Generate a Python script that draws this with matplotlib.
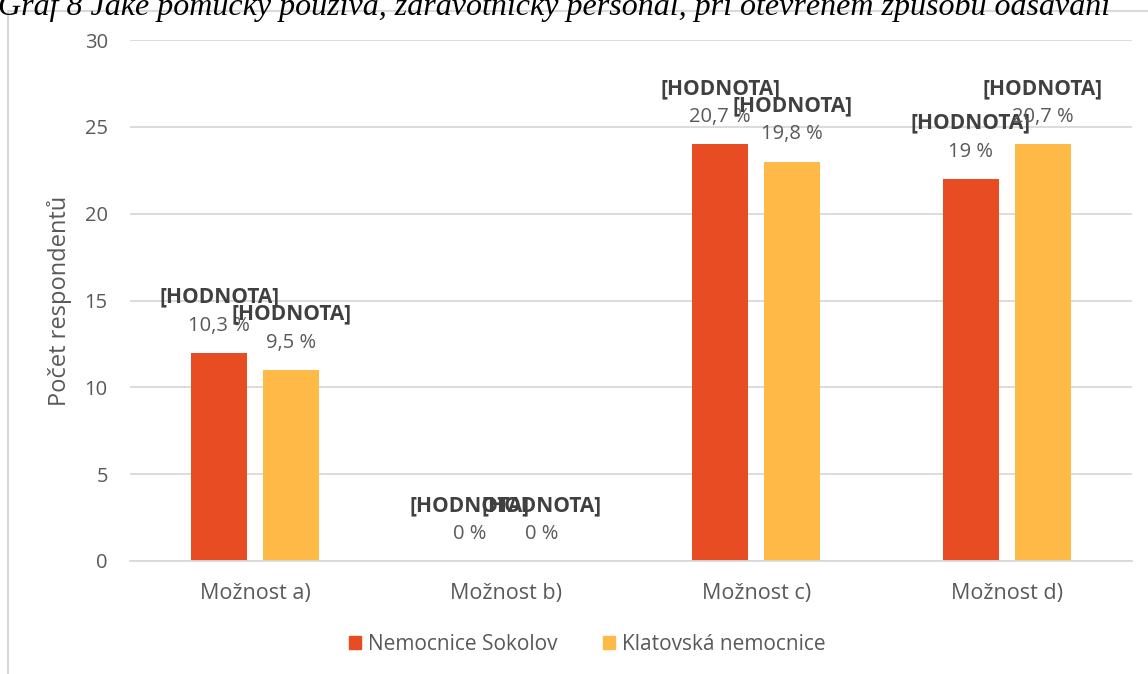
import matplotlib.pyplot as plt
from matplotlib.patches import Patch, Rectangle
import numpy as np

categories = ['Možnost a)', 'Možnost b)', 'Možnost c)', 'Možnost d)']
sokolov = [12, 0, 24, 22]
klatovy = [11, 0, 23, 24]
sokolov_pct = ['10,3 %', '0 %', '20,7 %', '19 %']
klatovy_pct = ['9,5 %', '0 %', '19,8 %', '20,7 %']
series_names = ['Nemocnice Sokolov', 'Klatovská nemocnice']
title = 'Graf 8 Jaké pomůcky používá, zdravotnický personál, při otevřeném způsobu odsávání'

RED = '#E84C22'
YELLOW = '#FFB946'
TXT = '#595959'
GRID = '#D9D9D9'

plt.rcParams['font.family'] = ['Open Sans', 'DejaVu Sans']

W, H = 1148, 674
fig = plt.figure(figsize=(W / 100, H / 100), dpi=100)

# chart area border
fig.patches.append(Rectangle((8 / W, -0.1), 1.2, 1 - 11 / H + 0.1, transform=fig.transFigure,
                             fill=False, edgecolor=GRID, linewidth=1.5))

fig.text(-0.002, 1 - 15 / H, title, family='Liberation Serif', style='italic',
         fontsize=23, ha='left', va='baseline', color='black')

ax = fig.add_axes([130 / W, 1 - 561 / H, (1132 - 130) / W, (561 - 40) / H])

x = np.arange(len(categories))
bw = 0.224
off = 0.144
b1 = ax.bar(x - off, sokolov, bw, color=RED, label=series_names[0])
b2 = ax.bar(x + off, klatovy, bw, color=YELLOW, label=series_names[1])

for bars, pcts in ((b1, sokolov_pct), (b2, klatovy_pct)):
    for rect, p in zip(bars, pcts):
        cx = rect.get_x() + rect.get_width() / 2
        top = rect.get_height()
        ax.annotate(p, (cx, top), xytext=(0, 19.5), textcoords='offset points',
                    ha='center', va='center', fontsize=14.5, color=TXT)
        ax.annotate('[HODNOTA]', (cx, top), xytext=(0, 40), textcoords='offset points',
                    ha='center', va='center', fontsize=15, fontweight='bold', color='#404040')

ax.set_xlim(-0.5, len(categories) - 0.5)
ax.set_ylim(0, 30)
ax.set_yticks(range(0, 31, 5))
ax.set_xticks(x)
ax.set_xticklabels(categories, fontsize=15.5)
ax.yaxis.grid(True, color=GRID, linewidth=1.3)
ax.set_axisbelow(True)
for s in ('top', 'right', 'left'):
    ax.spines[s].set_visible(False)
ax.spines['bottom'].set_color(GRID)
ax.spines['bottom'].set_linewidth(1.3)
ax.tick_params(axis='both', length=0, labelcolor=TXT)
ax.tick_params(axis='y', pad=16, labelsize=14.5)
ax.tick_params(axis='x', pad=16)
ax.set_ylabel('Počet respondentů', fontsize=17, color=TXT, va='center', ha='center')
ax.yaxis.set_label_coords((60 - 130) / 1002, 0.5)

handles = [Patch(color=RED), Patch(color=YELLOW)]
fig.legend(handles, series_names, loc='center', bbox_to_anchor=(587 / W, 1 - 644 / H),
           ncol=2, frameon=False, fontsize=15, labelcolor=TXT,
           handlelength=0.6, handleheight=0.6, handletextpad=0.3, columnspacing=2.2)

fig.savefig('out.png', dpi=100)
